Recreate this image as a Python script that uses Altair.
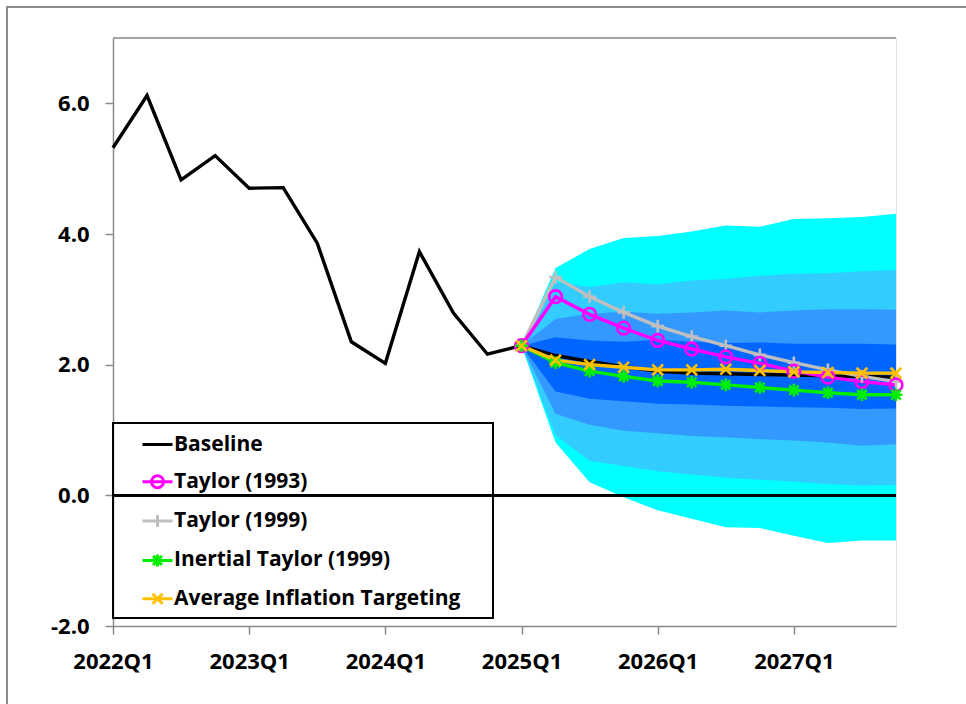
import altair as alt
import pandas as pd

# Quarterly categories on the horizontal axis
quarters = ["2022Q1", "2022Q2", "2022Q3", "2022Q4", "2023Q1", "2023Q2", "2023Q3", "2023Q4",
            "2024Q1", "2024Q2", "2024Q3", "2024Q4", "2025Q1", "2025Q2", "2025Q3", "2025Q4",
            "2026Q1", "2026Q2", "2026Q3", "2026Q4", "2027Q1", "2027Q2", "2027Q3", "2027Q4"]
tick_labels = ["2022Q1", "2023Q1", "2024Q1", "2025Q1", "2026Q1", "2027Q1"]
y_ticks = [-2, 0, 2, 4, 6]

# Observed values, 2022Q1 .. 2024Q4
history = [5.32, 6.12, 4.83, 5.20, 4.70, 4.71, 3.86, 2.35, 2.02, 3.73, 2.79, 2.16]

# Projections, 2025Q1 .. 2027Q4
proj_quarters = quarters[12:]
baseline = [2.29, 2.14, 2.05, 1.97, 1.90, 1.87, 1.86, 1.85, 1.84, 1.83, 1.82, 1.81]
taylor_1993 = [2.29, 3.04, 2.77, 2.56, 2.37, 2.24, 2.12, 2.02, 1.90, 1.81, 1.74, 1.69]
taylor_1999 = [2.29, 3.34, 3.04, 2.80, 2.59, 2.43, 2.29, 2.15, 2.03, 1.92, 1.82, 1.74]
inertial_1999 = [2.29, 2.03, 1.90, 1.82, 1.75, 1.73, 1.69, 1.65, 1.61, 1.57, 1.54, 1.54]
avg_inflation = [2.29, 2.07, 2.00, 1.96, 1.92, 1.92, 1.93, 1.91, 1.89, 1.88, 1.87, 1.87]

# Uncertainty fan around the baseline (outer to inner band)
band_names = ["outer", "wide", "mid", "inner"]
band_colors = ["#00FFFF", "#33CCFF", "#3399FF", "#0066FF"]
band_hi = {
    "outer": [2.29, 3.48, 3.77, 3.94, 3.97, 4.04, 4.13, 4.11, 4.23, 4.24, 4.26, 4.31],
    "wide":  [2.29, 3.26, 3.19, 3.26, 3.23, 3.29, 3.31, 3.36, 3.39, 3.40, 3.43, 3.45],
    "mid":   [2.29, 2.70, 2.78, 2.81, 2.78, 2.80, 2.83, 2.80, 2.83, 2.85, 2.85, 2.84],
    "inner": [2.29, 2.42, 2.37, 2.35, 2.38, 2.35, 2.33, 2.34, 2.32, 2.32, 2.32, 2.31],
}
band_lo = {
    "outer": [2.29, 0.81, 0.20, -0.03, -0.23, -0.36, -0.49, -0.50, -0.62, -0.73, -0.69, -0.69],
    "wide":  [2.29, 0.92, 0.53, 0.45, 0.37, 0.32, 0.27, 0.24, 0.21, 0.17, 0.15, 0.16],
    "mid":   [2.29, 1.25, 1.08, 0.99, 0.95, 0.91, 0.89, 0.86, 0.84, 0.81, 0.76, 0.78],
    "inner": [2.29, 1.59, 1.48, 1.44, 1.40, 1.39, 1.37, 1.36, 1.35, 1.34, 1.32, 1.33],
}

# Series names, colours and marker glyphs
names = ["Baseline", "Taylor (1993)", "Taylor (1999)", "Inertial Taylor (1999)",
         "Average Inflation Targeting"]
colors = ["#000000", "#FF00FF", "#BFBFBF", "#00EE00", "#FFC000"]
circle = "M-1,0A1,1 0 1,0 1,0A1,1 0 1,0 -1,0"
plus = "M-1,0H1M0,-1V1"
cross = "M-0.85,-0.85L0.85,0.85M-0.85,0.85L0.85,-0.85"
star = "M-1,0H1M0,-1V1M-0.75,-0.75L0.75,0.75M-0.75,0.75L0.75,-0.75"
marker_paths = ["M0,0", circle, plus, star, cross]
# legend glyphs: a short line with the marker on it
seg = "M-1.5,0H1.5"
legend_paths = [seg,
                seg + "M-0.6,0A0.6,0.6 0 1,0 0.6,0A0.6,0.6 0 1,0 -0.6,0",
                seg + "M0,-0.6V0.6",
                seg + "M0,-0.6V0.6M-0.45,-0.45L0.45,0.45M-0.45,0.45L0.45,-0.45",
                seg + "M-0.5,-0.5L0.5,0.5M-0.5,0.5L0.5,-0.5"]

# ---- tables ----
line_rows = []
for q, v in zip(quarters, history + baseline):
    line_rows.append({"name": "Baseline", "q": q, "v": v})
draw_order = [("Taylor (1999)", taylor_1999), ("Taylor (1993)", taylor_1993),
              ("Inertial Taylor (1999)", inertial_1999),
              ("Average Inflation Targeting", avg_inflation)]
marker_rows = []
for nm, vals in draw_order:
    for q, v in zip(proj_quarters, vals):
        line_rows.append({"name": nm, "q": q, "v": v})
        marker_rows.append({"name": nm, "q": q, "v": v})
lines_df = pd.DataFrame(line_rows)
markers_df = pd.DataFrame(marker_rows)

fan_rows = []
for b in band_names:
    for q, lo, hi in zip(proj_quarters, band_lo[b], band_hi[b]):
        fan_rows.append({"band": b, "q": q, "lo": lo, "hi": hi})
fan_df = pd.DataFrame(fan_rows)

legend_df = pd.DataFrame({"name": names})

# ---- scales & axes ----
FONT = "Open Sans"
x_axis = alt.Axis(values=tick_labels, labelAngle=0, title=None, grid=False,
                  domainColor="#8a8a8a", domainWidth=1.5, tickColor="#8a8a8a",
                  tickWidth=1.5, tickSize=8, labelPadding=17, labelFont=FONT,
                  labelFontSize=22, labelFontWeight="bold", labelColor="#000000")
y_axis = alt.Axis(values=y_ticks, title=None, grid=False,
                  labelExpr="(datum.value < 0 ? '-' : '') + format(abs(datum.value), '.1f')",
                  domainColor="#8a8a8a", domainWidth=1.5, tickColor="#8a8a8a",
                  tickWidth=1.5, tickSize=8, labelPadding=16, labelFont=FONT,
                  labelFontSize=22, labelFontWeight="bold", labelColor="#000000")
x_scale = alt.Scale(type="point", domain=quarters, padding=0)
y_scale = alt.Scale(domain=[-2, 7], nice=False, zero=False)

X = alt.X("q:O", sort=quarters, scale=x_scale, axis=x_axis)

# outer frame of the figure
frame = alt.Chart(legend_df).mark_rect(
    fill="transparent", stroke="#8c8c8c", strokeWidth=2
).encode(x=alt.value(-106), x2=alt.value(900), y=alt.value(-31), y2=alt.value(720))

# frame around the legend entries (transparent, so the zero line shows through)
legend_box = alt.Chart(legend_df).mark_rect(
    fill="transparent", stroke="#000000", strokeWidth=1.3
).encode(x=alt.value(0), x2=alt.value(380), y=alt.value(385), y2=alt.value(580))

fan = alt.Chart(fan_df).mark_area(interpolate="linear", opacity=1).encode(
    x=X,
    y=alt.Y("lo:Q", scale=y_scale, axis=y_axis),
    y2="hi:Q",
    color=alt.Color("band:N", scale=alt.Scale(domain=band_names, range=band_colors),
                    legend=None),
    order=alt.Order("bandorder:Q"),
).transform_calculate(
    bandorder="indexof(%s, datum.band)" % str(band_names)
)

zero_line = alt.Chart(legend_df).mark_rule(color="#000000", strokeWidth=2.2).encode(
    y=alt.datum(0, scale=y_scale)
)

top_edge = alt.Chart(legend_df).mark_rule(color="#a6a6a6", strokeWidth=1.5).encode(
    y=alt.value(0)
)

lines = alt.Chart(lines_df).mark_line(strokeWidth=3.4, strokeJoin="miter").encode(
    x=X,
    y=alt.Y("v:Q", scale=y_scale, axis=y_axis),
    color=alt.Color("name:N", scale=alt.Scale(domain=names, range=colors), legend=None),
    detail="name:N",
)

markers = alt.Chart(markers_df).mark_point(filled=False, strokeWidth=2.6, opacity=1,
                                           size=160).encode(
    x=X,
    y=alt.Y("v:Q", scale=y_scale, axis=y_axis),
    color=alt.Color("name:N", scale=alt.Scale(domain=names, range=colors), legend=None),
    shape=alt.Shape("name:N", scale=alt.Scale(domain=names, range=marker_paths),
                    legend=None),
)

legend_spec = alt.Legend(
    title=None, orient="none", legendX=0, legendY=387, direction="vertical",
    padding=8, symbolOffset=25, labelOffset=5, rowPadding=14.3,
    symbolSize=400, symbolStrokeWidth=3, symbolOpacity=1,
    labelFont=FONT, labelFontSize=21, labelFontWeight="bold", labelColor="#000000",
    labelLimit=500,
)
legend_layer = alt.Chart(legend_df).mark_point(filled=False, strokeWidth=3).encode(
    x=alt.value(0),
    y=alt.value(0),
    color=alt.Color("name:N", scale=alt.Scale(domain=names, range=colors),
                    legend=legend_spec, sort=names),
    shape=alt.Shape("name:N", scale=alt.Scale(domain=names, range=legend_paths),
                    legend=legend_spec, sort=names),
).transform_filter("false")

chart = alt.layer(
    frame, fan, zero_line, top_edge, lines, markers, legend_box, legend_layer
).resolve_scale(
    color="independent", shape="independent"
).properties(
    width=783, height=588,
    autosize=alt.AutoSizeParams(type="none"),
    padding={"left": 113, "top": 38, "right": 70, "bottom": 78},
    background="#ffffff",
).configure_view(
    stroke="#e2e2e2", strokeWidth=1
)

chart.save("out.html", embed_options={"renderer": "svg", "actions": False})
